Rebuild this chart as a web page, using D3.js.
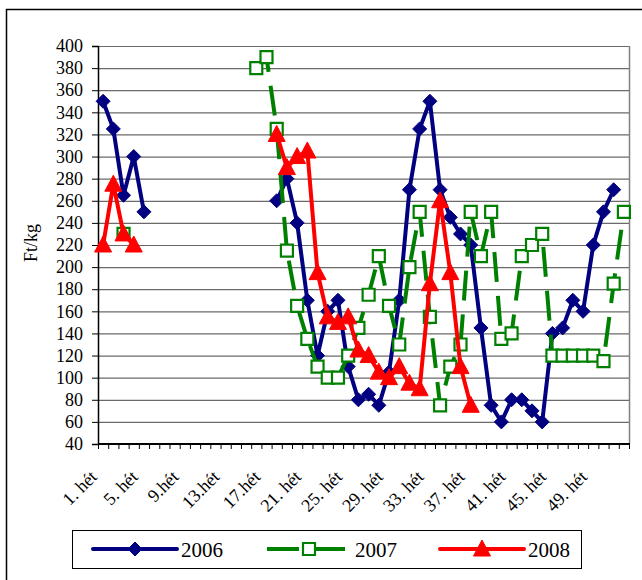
<!DOCTYPE html>
<html>
<head>
<meta charset="utf-8">
<script src="https://cdn.jsdelivr.net/npm/d3@7"></script>
<style>
  body { margin: 0; background: #fff; }
  text { font-family: "Liberation Serif", "Times New Roman", serif; }
</style>
</head>
<body>
<div id="container"></div>
<script>
// weeks 1..52 (categories)
const weeks = [1,2,3,4,5,6,7,8,9,10,11,12,13,14,15,16,17,18,19,20,21,22,23,24,25,26,
               27,28,29,30,31,32,33,34,35,36,37,38,39,40,41,42,43,44,45,46,47,48,49,50,51,52];
const tickWeeks = [1,5,9,13,17,21,25,29,33,37,41,45,49];
const tickLabels = ["1. hét","5. hét","9.hét","13.hét","17.hét","21. hét","25. hét",
                    "29. hét","33. hét","37. hét","41. hét","45. hét","49. hét"];
const yTicks = [40,60,80,100,120,140,160,180,200,220,240,260,280,300,320,340,360,380,400];

const n = null;
const v2006 = [350,325,265,300,250, n,n,n,n,n,n,n,n,n,n,n,n,
               260,280,240,170,120,160,170,110,80,85,75,105,170,270,325,350,270,245,230,220,
               145,75,60,80,80,70,60,140,145,170,160,220,250,270, n];
const v2007 = [n,n,230,n,n, n,n,n,n,n,n,n,n,n,n,380,390,
               325,215,165,135,110,100,100,120,145,175,210,165,130,200,250,155,75,110,130,250,
               210,250,135,140,210,220,230,120,120,120,120,120,115,185,250];
const v2008 = [220,275,230,220,n, n,n,n,n,n,n,n,n,n,n,n,n,
               320,290,300,305,195,155,150,155,125,120,105,100,110,95,90,185,260,195,110,75,
               n,n,n,n,n,n,n,n,n,n,n,n,n,n,n];

const series = [
  { name: "2006", values: v2006, color: "#000080", marker: "diamond" },
  { name: "2007", values: v2007, color: "#008000", marker: "square" },
  { name: "2008", values: v2008, color: "#ff0000", marker: "triangle" }
];

const WIDTH = 642, HEIGHT = 580;
const plotLeft = 98, plotRight = 629, plotTop = 46, plotBottom = 444;

const svg = d3.select("#container").append("svg")
  .attr("width", WIDTH).attr("height", HEIGHT);

// chart border (cut off at right and bottom)
svg.append("rect")
  .attr("x", 6.5).attr("y", 9.5).attr("width", 700).attr("height", 700)
  .attr("fill", "none").attr("stroke", "#000").attr("stroke-width", 1.5);

const x = d3.scaleBand().domain(weeks).range([plotLeft, plotRight]);
const y = d3.scaleLinear().domain([40, 400]).range([plotBottom, plotTop]);

// gridlines
svg.selectAll("line.grid")
  .data(yTicks.slice(1))
  .enter().append("line")
  .attr("class", "grid")
  .attr("x1", plotLeft).attr("x2", plotRight)
  .attr("y1", d => y(d) + 0.5).attr("y2", d => y(d) + 0.5)
  .attr("stroke", "#6a6a6a").attr("stroke-width", 1.2);

svg.append("line")
  .attr("x1", plotRight + 0.5).attr("x2", plotRight + 0.5)
  .attr("y1", plotTop).attr("y2", plotBottom)
  .attr("stroke", "#808080").attr("stroke-width", 1.5);

// y axis
const yAxis = svg.append("g")
  .attr("transform", `translate(${plotLeft},0)`)
  .call(d3.axisLeft(y).tickValues(yTicks).tickSize(6).tickPadding(9));
yAxis.select(".domain").attr("stroke", "#000").attr("stroke-width", 1.5);
yAxis.selectAll(".tick line").attr("stroke", "#000");
yAxis.selectAll("text").attr("font-size", 18).attr("fill", "#000")
  .attr("font-family", "'Liberation Serif', serif");

svg.append("text")
  .attr("transform", "translate(37,243) rotate(-90)")
  .attr("text-anchor", "middle")
  .attr("font-size", 18)
  .text("Ft/kg");

// x axis
svg.append("line")
  .attr("x1", plotLeft).attr("x2", plotRight + 1)
  .attr("y1", plotBottom).attr("y2", plotBottom)
  .attr("stroke", "#000").attr("stroke-width", 2);

svg.selectAll("line.xtick")
  .data(weeks.concat([53]))
  .enter().append("line")
  .attr("class", "xtick")
  .attr("x1", d => (d === 53 ? plotRight : x(d)) + 0.5)
  .attr("x2", d => (d === 53 ? plotRight : x(d)) + 0.5)
  .attr("y1", plotBottom).attr("y2", plotBottom + 5)
  .attr("stroke", "#000");

svg.selectAll("text.xlab")
  .data(tickWeeks)
  .enter().append("text")
  .attr("class", "xlab")
  .attr("text-anchor", "end")
  .attr("font-size", 18)
  .attr("transform", d => `translate(${x(d) + x.bandwidth() / 2 - 5},478) rotate(-45)`)
  .text((d, i) => tickLabels[i]);

// markers
function markerPath(type) {
  if (type === "diamond") return "M0,-7L7,0L0,7L-7,0Z";
  if (type === "square") return "M-6,-6H6V6H-6Z";
  return "M0,-9L8.5,7L-8.5,7Z";
}

function drawMarker(g, type, color) {
  g.append("path")
    .attr("d", markerPath(type))
    .attr("fill", type === "square" ? "#fff" : color)
    .attr("stroke", color)
    .attr("stroke-width", type === "square" ? 2.2 : 1);
}

const line = d3.line()
  .defined(d => d.v !== null)
  .x(d => x(d.w) + x.bandwidth() / 2)
  .y(d => y(d.v));

series.forEach(s => {
  const pts = weeks.map((w, i) => ({ w: w, v: s.values[i] }));
  const g = svg.append("g");
  g.append("path")
    .datum(pts)
    .attr("d", line)
    .attr("fill", "none")
    .attr("stroke", s.color)
    .attr("stroke-width", 4)
    .attr("stroke-dasharray", s.marker === "square" ? "30,14" : null);
  g.selectAll("g.m")
    .data(pts.filter(d => d.v !== null))
    .enter().append("g")
    .attr("transform", d => `translate(${x(d.w) + x.bandwidth() / 2},${y(d.v)})`)
    .each(function() { drawMarker(d3.select(this), s.marker, s.color); });
});

// legend
const legend = svg.append("g");
legend.append("rect")
  .attr("x", 72.5).attr("y", 530.5).attr("width", 509).attr("height", 38)
  .attr("fill", "#fff").attr("stroke", "#000").attr("stroke-width", 1);

const legendX = [93, 267, 440];
series.forEach((s, i) => {
  const lx = legendX[i];
  legend.append("line")
    .attr("x1", lx).attr("x2", lx + 84)
    .attr("y1", 549).attr("y2", 549)
    .attr("stroke", s.color).attr("stroke-width", 4)
    .attr("stroke-linecap", s.marker === "square" ? "butt" : "round")
    .attr("stroke-dasharray", s.marker === "square" ? "32,14" : null);
  const m = legend.append("g").attr("transform", `translate(${lx + 42},549)`);
  drawMarker(m, s.marker, s.color);
  legend.append("text")
    .attr("x", lx + 88).attr("y", 557)
    .attr("font-size", 21)
    .text(s.name);
});
</script>
</body>
</html>
